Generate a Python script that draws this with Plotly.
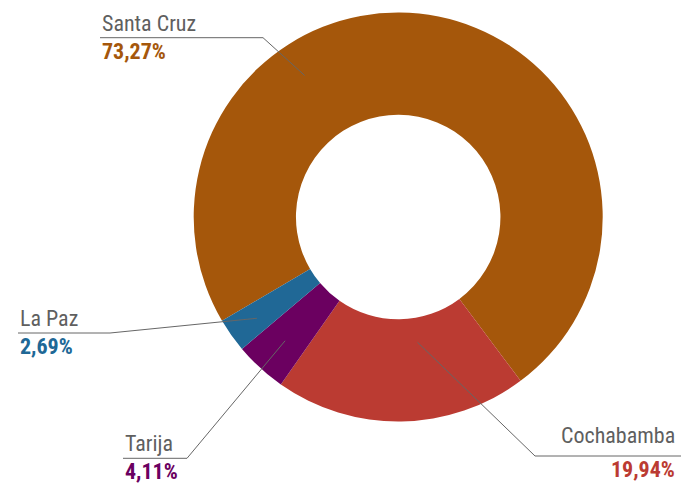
import math
import plotly.graph_objects as go

# ---- data ----
departments = ["Santa Cruz", "Cochabamba", "Tarija", "La Paz"]
shares = [73.27, 19.94, 4.11, 2.69]
pct_labels = ["73,27%", "19,94%", "4,11%", "2,69%"]

# ---- styling ----
colors = ["#a5570b", "#bb3b32", "#6b0060", "#206896"]
W, H = 682, 484
CX, CY, R = 398.2, 217.0, 204.5
ROTATION = 239.5
FONT = "Roboto Condensed, Liberation Sans Narrow, DejaVu Sans Condensed, Roboto, sans-serif"

# label layout (pixel space)
label_layout = {
    "Santa Cruz": dict(side="left", tx=100, uy=37.7, ex=263, endx=100, frac=0.33, rf=0.83, gap=0),
    "La Paz": dict(side="left", tx=18, uy=333, ex=110, endx=18, frac=0.47, rf=0.85, gap=0),
    "Tarija": dict(side="left", tx=123, uy=458.3, ex=187, endx=123, frac=0.5, rf=0.82, gap=0),
    "Cochabamba": dict(side="right", tx=677, uy=456, ex=535, endx=681, frac=0.39, rf=0.62, gap=6),
}


def px(x, y):
    return x / W, 1 - y / H


fig = go.Figure()
x0, y0 = px(CX - R, CY + R)
x1, y1 = px(CX + R, CY - R)
fig.add_trace(go.Pie(
    labels=departments, values=shares, sort=False, direction="clockwise",
    rotation=ROTATION, hole=0.5, textinfo="none", hoverinfo="label+percent",
    marker=dict(colors=colors, line=dict(width=0)),
    domain=dict(x=[x0, x1], y=[y0, y1]), showlegend=False,
))

total = sum(shares)
start = ROTATION
shapes, annotations = [], []
for name, v, pl, col in zip(departments, shares, pct_labels, colors):
    span = v / total * 360
    L = label_layout[name]
    ang = math.radians(start + L["frac"] * span)
    ax = CX + L["rf"] * R * math.sin(ang)
    ay = CY - L["rf"] * R * math.cos(ang)
    start += span
    p_end = px(L["endx"], L["uy"])
    p_elb = px(L["ex"], L["uy"])
    p_in = px(ax, ay)
    shapes.append(dict(
        type="path", xref="paper", yref="paper",
        path=f"M {p_end[0]} {p_end[1]} L {p_elb[0]} {p_elb[1]} L {p_in[0]} {p_in[1]}",
        line=dict(color="#666666", width=1),
    ))
    anchor = L["side"]
    tx, ty = px(L["tx"], L["uy"] - L["gap"])
    annotations.append(dict(
        x=tx, y=ty, xref="paper", yref="paper", xanchor=anchor, yanchor="bottom",
        text=name, showarrow=False, font=dict(family=FONT, size=22, color="#5f5f5f"),
    ))
    tx2, ty2 = px(L["tx"], L["uy"] - 1)
    annotations.append(dict(
        x=tx2, y=ty2, xref="paper", yref="paper", xanchor=anchor, yanchor="top",
        text=f"<b>{pl}</b>", showarrow=False, font=dict(family=FONT, size=22, color=col),
    ))

fig.update_layout(
    width=W, height=H, margin=dict(l=0, r=0, t=0, b=0),
    paper_bgcolor="white", plot_bgcolor="white",
    shapes=shapes, annotations=annotations,
)
fig.write_html("out.html", config={"displayModeBar": False},
               post_script="document.body.style.margin='0px';")
